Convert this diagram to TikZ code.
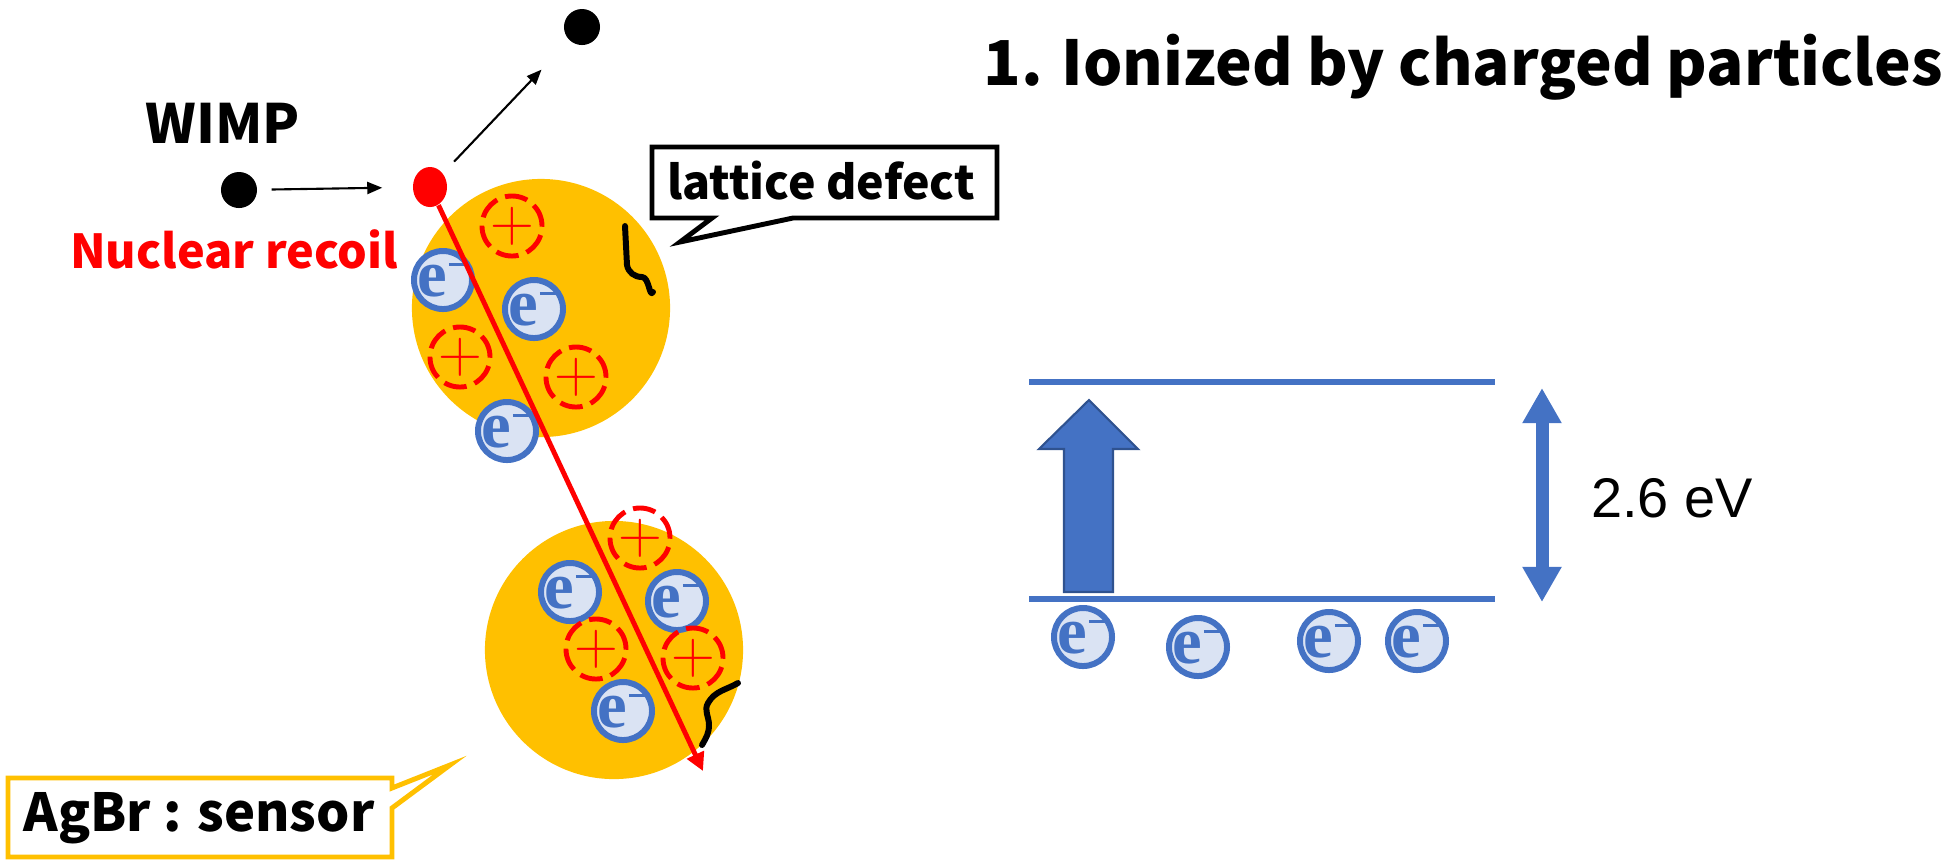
\documentclass[tikz,border=0pt]{standalone}
\usepackage{fontspec}
\setmainfont{Noto Sans CJK JP}
\newfontfamily\arialfont{Liberation Sans}
\newfontfamily\efont{Liberation Serif}
\usetikzlibrary{positioning,arrows.meta,shapes.geometric}

\definecolor{grain}{HTML}{FFC000}
\definecolor{eblue}{HTML}{4472C4}
\definecolor{elight}{HTML}{DAE3F3}
\definecolor{edark}{HTML}{2F528F}

% electron symbol, kept from growing its circle
\newcommand{\electron}{\makebox[0pt]{\smash{\raisebox{-0.25em}{{\efont\bfseries e}\kern0.03em\raisebox{0.46em}{\rule{0.3em}{0.05em}}}}}}

\tikzset{
  crystal/.style={circle, fill=grain, minimum size=2.58cm, inner sep=0pt},
  elec/.style={circle, draw=eblue, fill=elight, line width=1.7pt, minimum size=0.58cm,
    inner sep=0pt, text=eblue, font=\fontsize{19}{19}\selectfont},
  hole/.style={circle, draw=red, line width=1.4pt, dash pattern=on 6.5pt off 2.4pt,
    minimum size=0.6cm, inner sep=0pt, text=red, font=\fontsize{16}{16}\selectfont},
  particle/.style={circle, fill=black, minimum size=0.36cm, inner sep=0pt},
  txt/.style={font=\bfseries\fontsize{#1}{#1}\selectfont, anchor=base, inner sep=0pt},
  defect/.style={line width=1.7pt, line cap=round, line join=round},
  level/.style={eblue, line width=1.7pt},
}

\begin{document}
\begin{tikzpicture}[x=0.01cm, y=-0.01cm, >={Triangle[length=0.15cm, width=0.12cm]}]
    \useasboundingbox (0,0) rectangle (1944,859);

    % Title
    \node[txt=17.6] (title) at (1463,85) {1. Ionized by charged particles};

    % AgBr grains
    \node[crystal] (grainA) at (541,308) {};
    \node[crystal] (grainB) at (614,650) {};

    % Lattice defects
    \draw[defect] (625,226) -- (627,265) to[out=-80,in=180] (642,277) to[out=0,in=-120] (653,292);
    \draw[defect] (738,683) to[out=-150,in=60] (708,703) to[out=-120,in=90] (709,725) to[out=-90,in=60] (702,745);

    % Electrons and holes in the upper grain
    \node[elec] (eA1) at (443,280) {\electron};
    \node[elec] (eA2) at (534,309) {\electron};
    \node[elec] (eA3) at (507,431) {\electron};
    \node[hole] (hA1) at (512,226) {$+$};
    \node[hole] (hA2) at (460,357) {$+$};
    \node[hole] (hA3) at (576,377) {$+$};

    % Electrons and holes in the lower grain
    \node[hole] (hB1) at (640,538) {$+$};
    \node[elec] (eB1) at (570,592) {\electron};
    \node[elec] (eB2) at (677,601) {\electron};
    \node[hole] (hB2) at (596,649) {$+$};
    \node[hole] (hB3) at (693,658) {$+$};
    \node[elec] (eB3) at (623,711) {\electron};

    % WIMP scattering
    \node[txt=15.4] (wimp) at (223,143) {WIMP};
    \node[particle] (wimpdot) at (239,190) {};
    \node[particle] (outdot) at (582,27) {};
    \node[ellipse, fill=red, minimum width=0.34cm, minimum height=0.4cm, inner sep=0pt] (nucl) at (430,187) {};
    \node[txt=13.3, text=red] (recoil) at (234,268) {Nuclear recoil};
    \coordinate (trackend) at (703,771);

    \draw[->, line width=0.6pt, shorten <=0.14cm, shorten >=0.3cm] (wimpdot) -- (nucl);
    \draw[->, line width=0.6pt, shorten <=0.35cm, shorten >=0.4cm] (nucl.center) -- (outdot);
    \draw[red, line width=1.4pt, -{Triangle[length=0.18cm, width=0.18cm]}] (nucl) -- (trackend);

    % Callouts
    \draw[line width=1.4pt, fill=white] (652,147) -- (997,147) -- (997,218) -- (793,218)
        -- (680,242) -- (712,218) -- (652,218) -- cycle;
    \node[txt=13.2] (defectlbl) at (821,199) {lattice defect};
    \draw[grain, line width=1.4pt, fill=white] (8,778) -- (392,778) -- (392,788) -- (450,765)
        -- (392,808) -- (392,857) -- (8,857) -- cycle;
    \node[txt=14.9] (sensor) at (199,831) {AgBr : sensor};

    % Band gap
    \coordinate (upL) at (1029,382);
    \coordinate (upR) at (1495,382);
    \coordinate (loL) at (1029,599);
    \coordinate (loR) at (1495,599);
    \draw[level] (upL) -- (upR);
    \draw[level] (loL) -- (loR);
    \filldraw[fill=eblue, draw=edark, line width=0.6pt] (1064,592) -- (1064,449) -- (1039,449)
        -- (1089,400) -- (1138,449) -- (1113,449) -- (1113,592) -- cycle;

    \coordinate (gapT) at (1542,388);
    \coordinate (gapB) at (1542,602);
    \draw[eblue, line width=3.7pt, {Triangle[length=10pt, width=10.5pt]}-{Triangle[length=10pt, width=10.5pt]}] (gapT) -- (gapB);
    \node[anchor=base, inner sep=0pt, font=\arialfont\fontsize{15.9}{15.9}\selectfont] (gap) at (1672,517) {2.6 eV};

    % Valence electrons
    \node[elec] (v1) at (1083,637) {\electron};
    \node[elec] (v2) at (1198,647) {\electron};
    \node[elec] (v3) at (1329,641) {\electron};
    \node[elec] (v4) at (1417,641) {\electron};
\end{tikzpicture}
\end{document}
